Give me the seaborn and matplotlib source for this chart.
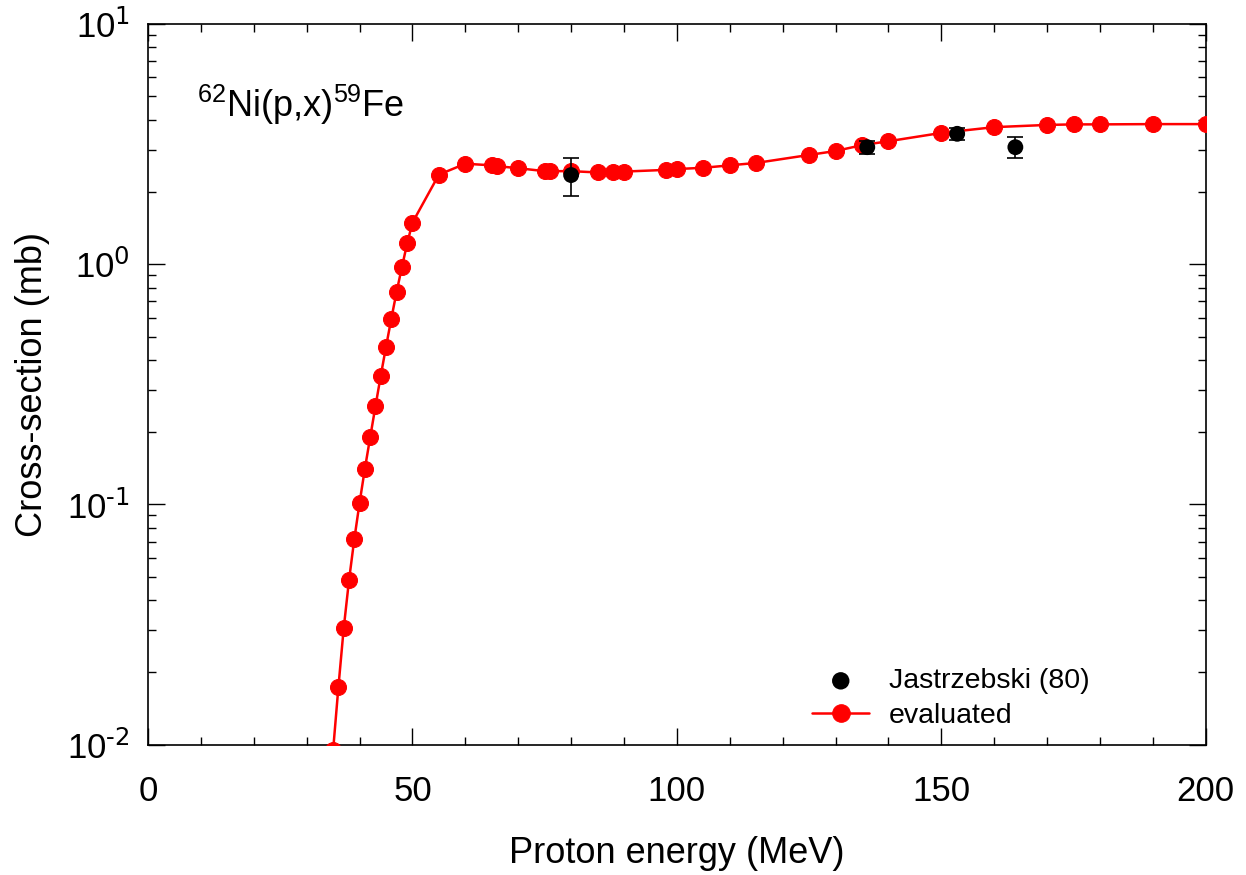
import matplotlib
matplotlib.use("Agg")
import matplotlib.pyplot as plt
import numpy as np
import pandas as pd
import seaborn as sns
from matplotlib.ticker import MultipleLocator, LogLocator, FuncFormatter

# evaluated excitation function
eval_energy = [35, 36, 37, 38, 39, 40, 41, 42, 43, 44, 45, 46, 47, 48, 49, 50,
               55, 60, 65, 66, 70, 75, 76, 80, 85, 88, 90, 98, 100, 105, 110,
               115, 125, 130, 135, 140, 150, 160, 170, 175, 180, 190, 200]
eval_xs = [0.0095, 0.0174, 0.0305, 0.0483, 0.0716, 0.1016, 0.1407, 0.190,
           0.256, 0.343, 0.453, 0.593, 0.767, 0.972, 1.22, 1.49,
           2.36, 2.62, 2.58, 2.56, 2.51, 2.44, 2.44, 2.44, 2.41, 2.43, 2.43,
           2.47, 2.49, 2.52, 2.58, 2.64, 2.85, 2.96, 3.13, 3.25, 3.52, 3.72,
           3.80, 3.82, 3.82, 3.83, 3.83]

# experimental data, Jastrzebski (80)
exp_energy = [80, 136, 153, 164]
exp_xs = [2.35, 3.07, 3.49, 3.07]
exp_err = [0.42, 0.19, 0.20, 0.30]

sns.set_style("ticks")
plt.rcParams["font.family"] = ["Liberation Sans", "DejaVu Sans"]
plt.rcParams["mathtext.default"] = "regular"
for key in ["text.color", "axes.labelcolor", "xtick.color", "ytick.color", "axes.edgecolor"]:
    plt.rcParams[key] = "black"

df_eval = pd.DataFrame({"energy": eval_energy, "xs": eval_xs})
df_exp = pd.DataFrame({"energy": exp_energy, "xs": exp_xs, "err": exp_err})

fig = plt.figure(figsize=(12.46, 8.75), dpi=100)
ax = fig.add_axes([0.1188, 0.1489, 0.8489, 0.8237])

ax.errorbar(df_exp["energy"], df_exp["xs"], yerr=df_exp["err"], fmt="none",
            ecolor="black", elinewidth=1.2, capsize=6, capthick=1.2, zorder=4)
sns.scatterplot(data=df_exp, x="energy", y="xs", ax=ax, color="black", s=130,
                edgecolor="none", label="Jastrzebski (80)", zorder=5)
sns.lineplot(data=df_eval, x="energy", y="xs", ax=ax, color="red", lw=1.8,
             marker="o", markersize=11.5, markeredgecolor="red",
             label="evaluated", zorder=3)


def pow_label(v, pos):
    e = int(round(np.log10(v)))
    return r"$10^{\text{%d}}$" % e


ax.set_yscale("log")
ax.set_xlim(0, 200)
ax.set_ylim(0.01, 10)
ax.xaxis.set_major_locator(MultipleLocator(50))
ax.xaxis.set_minor_locator(MultipleLocator(10))
ax.yaxis.set_major_locator(LogLocator(base=10))
ax.yaxis.set_minor_locator(LogLocator(base=10, subs=np.arange(2, 10)))
ax.yaxis.set_major_formatter(FuncFormatter(pow_label))
ax.tick_params(which="both", direction="in", top=True, right=True, width=1.0)
ax.tick_params(which="major", length=12, labelsize=25)
ax.tick_params(which="minor", length=6)
ax.tick_params(axis="x", which="major", pad=22)
ax.tick_params(axis="y", which="major", pad=13)
for sp in ax.spines.values():
    sp.set_linewidth(1.2)

ax.set_xlabel("Proton energy (MeV)", fontsize=26, labelpad=20)
ax.set_ylabel("Cross-section (mb)", fontsize=26, labelpad=12)

ax.text(0.046, 0.888, r"$^{62}$Ni(p,x)$^{59}$Fe", transform=ax.transAxes,
        fontsize=26, va="center", ha="left")

ax.legend(loc="lower left", bbox_to_anchor=(0.628, 0.022), frameon=False,
          borderpad=0, borderaxespad=0, fontsize=20.5, handlelength=2.0,
          handletextpad=0.7, labelspacing=0.3, markerscale=1.1)

fig.savefig("out.png", dpi=100)
